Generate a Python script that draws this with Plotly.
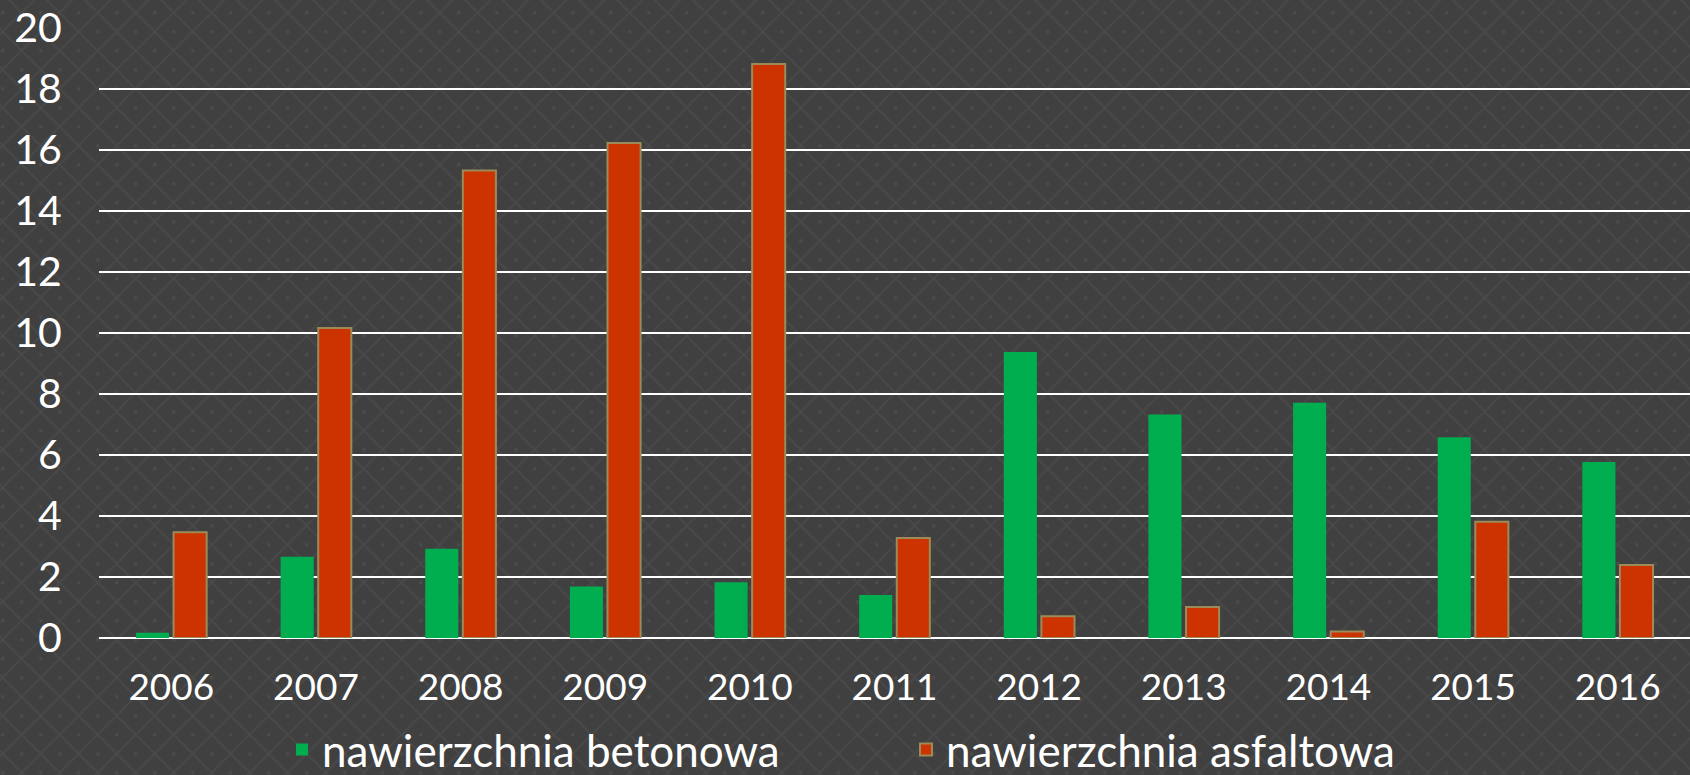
import base64
import plotly.graph_objects as go

years = ["2006", "2007", "2008", "2009", "2010", "2011", "2012", "2013", "2014", "2015", "2016"]
betonowa = [0.17, 2.66, 2.93, 1.69, 1.83, 1.41, 9.38, 7.33, 7.71, 6.58, 5.77]
asfaltowa = [3.47, 10.16, 15.33, 16.23, 18.82, 3.28, 0.71, 1.02, 0.21, 3.81, 2.39]
series_names = ["nawierzchnia betonowa", "nawierzchnia asfaltowa"]
y_ticks = [0, 2, 4, 6, 8, 10, 12, 14, 16, 18, 20]

FONT = "Lato"
BG = "#404040"

# background diamond pattern (decorative), as an SVG image
svg = f"""<svg xmlns='http://www.w3.org/2000/svg' width='1690' height='775'>
<defs><pattern id='p' x='2.7' y='12.7' width='38' height='38' patternUnits='userSpaceOnUse'>
<path d='M19,0 L38,19 L19,38 L0,19 Z' fill='none' stroke='#4a4a4a' stroke-width='1.6'/>
<circle cx='19' cy='19' r='1.7' fill='#4d4d4d'/>
<circle cx='0' cy='0' r='1.7' fill='#4d4d4d'/><circle cx='38' cy='0' r='1.7' fill='#4d4d4d'/>
<circle cx='0' cy='38' r='1.7' fill='#4d4d4d'/><circle cx='38' cy='38' r='1.7' fill='#4d4d4d'/>
</pattern></defs>
<rect width='1690' height='775' fill='{BG}'/>
<rect width='1690' height='775' fill='url(#p)'/>
</svg>"""
svg_uri = "data:image/svg+xml;base64," + base64.b64encode(svg.encode()).decode()

fig = go.Figure()
fig.add_trace(go.Bar(
    x=years, y=betonowa, name=series_names[0],
    marker=dict(color="#00AD4F", line=dict(width=0)),
))
fig.add_trace(go.Bar(
    x=years, y=asfaltowa, name=series_names[1],
    marker=dict(color="#CC3300", line=dict(color="#9C8A58", width=2)),
))

W, H = 1690, 775
ml, mr, mt, mb = 99, 0, 28, 137
pw, ph = W - ml - mr, H - mt - mb

fig.update_layout(
    width=W, height=H,
    margin=dict(l=ml, r=mr, t=mt, b=mb, pad=0, autoexpand=False),
    paper_bgcolor=BG,
    plot_bgcolor="rgba(0,0,0,0)",
    barmode="group",
    bargap=0.48,
    bargroupgap=0.12,
    font=dict(family=FONT, color="#FFFFFF"),
    showlegend=True,
    legend=dict(
        orientation="h",
        x=(906 - ml) / pw, xanchor="center",
        y=-(750 - (mt + ph)) / ph, yanchor="middle",
        font=dict(size=44, family=FONT, color="#FFFFFF"),
        bgcolor="rgba(0,0,0,0)",
        entrywidth=579, entrywidthmode="pixels",
        itemclick=False, itemdoubleclick=False,
    ),
    images=[dict(
        source=svg_uri, xref="paper", yref="paper",
        x=-ml / pw, y=1 + mt / ph,
        sizex=W / pw, sizey=H / ph,
        xanchor="left", yanchor="top",
        sizing="stretch", layer="below",
    )],
    xaxis=dict(
        type="category",
        showgrid=False, showline=False, zeroline=False,
        ticks="outside", ticklen=17, tickcolor="rgba(0,0,0,0)",
        tickfont=dict(size=37, family=FONT, color="#FFFFFF"),
        fixedrange=True,
    ),
    yaxis=dict(
        range=[0, 20],
        tickvals=y_ticks,
        showgrid=True, gridcolor="#FFFFFF", gridwidth=2,
        zeroline=True, zerolinecolor="#FFFFFF", zerolinewidth=2,
        showline=False,
        ticks="outside", ticklen=28, tickcolor="rgba(0,0,0,0)",
        tickfont=dict(size=41, family=FONT, color="#FFFFFF"),
        fixedrange=True,
    ),
)

fig.write_html(
    "out.html",
    config={"displayModeBar": False},
    post_script="document.body.style.margin='0';document.body.style.background='" + BG + "';",
)
